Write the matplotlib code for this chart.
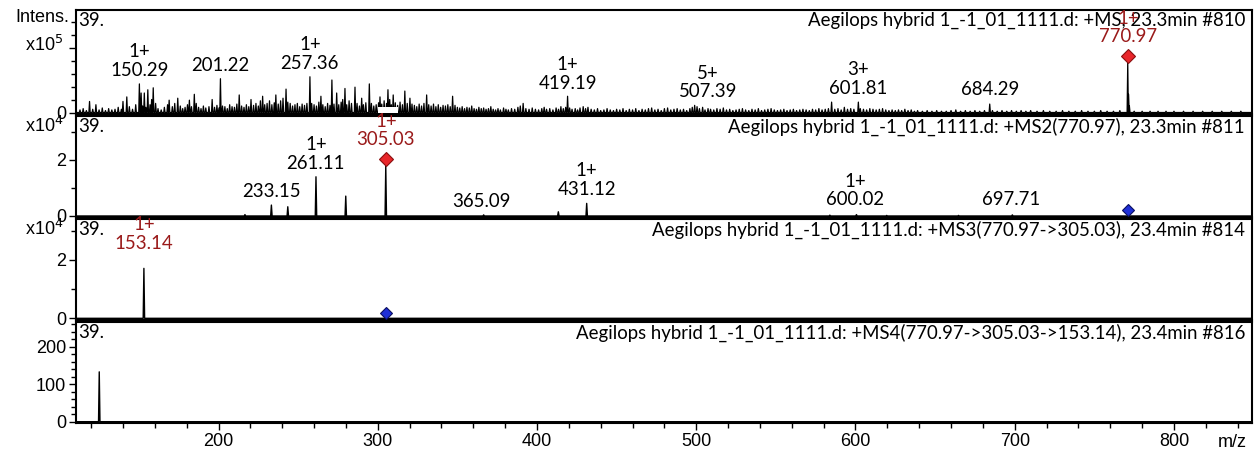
import matplotlib
matplotlib.use("Agg")
import matplotlib.pyplot as plt
from matplotlib.ticker import MultipleLocator
from matplotlib.patches import Rectangle

TICK_FONT = ["Liberation Sans Narrow", "Liberation Sans", "DejaVu Sans"]
LABEL_FONT = ["Lato", "DejaVu Sans"]
LABEL_SIZE = 13.4
RED_TXT = "#9a1a1a"

# --- MS (full scan), intensities in thousands ---
ms1_mz = [113, 115, 117, 119, 121, 123, 125, 127, 129, 131, 133, 135, 137, 139, 140, 142.4, 144, 146, 148,
          150.3, 151.4, 152.3, 153.4, 154.4, 155.6, 157, 158, 159, 160.5, 162, 164, 166, 168, 169, 171,
          172.5, 174.4, 176, 177.5, 179, 180.5, 181.7, 183, 184.8, 186, 187.5, 189, 190.5, 192, 194, 196,
          197.5, 199, 200.3, 201.2, 202.5, 204, 205.5, 207, 208.5, 210, 211.5, 213, 214.5, 216, 217.5, 219,
          220.4, 222, 223.5, 225, 226.3, 227.7, 229, 230.5, 232, 233.5, 235, 236, 237.5, 239, 240.5, 242.4,
          243.5, 245, 246.5, 248, 249.5, 251, 252.5, 254, 255.5, 257.4, 258.5, 260, 261.5, 263, 264.3, 265.5,
          267, 268.5, 270, 271.2, 272.5, 274.2, 275.5, 277, 278, 279.4, 280.5, 282, 283.5, 285.7, 287, 288.5,
          289.9, 291, 292.5, 294.7, 296, 297.5, 299, 300.5, 301.4, 302.5, 304, 305.5, 306.4, 307.5, 308.5,
          309.7, 311, 312.5, 314, 315.5, 317, 318.5, 320.2, 321.5, 323, 324.5, 326, 327.5, 329, 330.7, 332,
          333.5, 335, 336.5, 338, 339.5, 341, 342.5, 344, 345.5, 347, 348.5, 350, 351.5, 353, 354.5, 356,
          357.5, 359, 360.5, 362, 363.5, 365, 366.5, 368, 369.5, 371, 372.5, 374, 375.5, 377, 379, 380.5,
          382, 384, 386, 388, 389.5, 391.3, 393, 395, 397, 399, 401, 403, 404.5, 406, 408, 410, 412, 413.5,
          415, 416.5, 418, 419.2, 420.5, 422, 424, 425.5, 427, 429, 430.5, 432, 434, 436, 438, 440, 442,
          444, 446, 448, 450, 452, 454, 456, 458, 460, 462, 464, 466, 468, 470, 472, 474, 476, 478, 480,
          482, 484, 486, 488, 490, 492, 494, 496, 497.5, 499, 500.5, 502, 504, 505.5, 507.4, 509, 511, 513,
          515, 517, 519, 521, 523, 525, 527, 529, 531, 533, 535, 537, 539, 541, 543, 545, 547, 549, 551,
          553, 555, 557, 559, 561, 563, 565, 567, 569, 571, 573, 575, 577, 579, 581, 583, 585, 587, 589,
          591, 593, 595, 597, 599, 601.8, 603, 605, 607, 609, 611, 613, 615, 617, 619, 621, 623, 625, 627,
          629, 631, 633, 635, 637, 639, 642, 645, 648, 651, 654, 657, 660, 663, 666, 669, 672, 675, 678,
          681, 684.3, 686, 689, 692, 695, 698, 701, 704, 707, 710, 714, 718, 722, 726, 730, 734, 738, 742,
          746, 750, 754, 758, 762, 766, 770.97, 771.5, 772, 775, 780, 785, 790, 795, 800, 806, 812, 818,
          824, 830, 836, 842]
ms1_int = [4, 6, 3, 17, 5, 12, 4, 7, 3, 6, 4, 5, 8, 5, 17, 24, 9, 5, 12,
           44, 30, 10, 30, 8, 35, 12, 20, 38, 14, 6, 4, 8, 12, 19, 9,
           14, 22, 10, 6, 8, 12, 19, 9, 28, 14, 8, 6, 10, 7, 9, 20,
           8, 11, 7, 52, 10, 9, 6, 12, 9, 8, 13, 27, 10, 8, 12, 9,
           20, 11, 14, 10, 18, 25, 12, 14, 18, 12, 15, 27, 13, 18, 22, 36,
           16, 14, 10, 12, 14, 9, 13, 11, 14, 55, 14, 12, 10, 16, 25, 12,
           9, 14, 11, 50, 13, 30, 12, 16, 20, 37, 12, 18, 14, 39, 14, 10,
           22, 12, 15, 44, 14, 10, 12, 15, 24, 13, 18, 14, 35, 20, 12,
           27, 15, 11, 16, 12, 33, 14, 22, 13, 11, 9, 13, 10, 14, 27, 12,
           10, 13, 9, 12, 8, 11, 10, 12, 9, 25, 11, 8, 7, 9, 6, 8,
           7, 10, 6, 5, 8, 6, 7, 5, 6, 9, 5, 4, 6, 4, 7, 5,
           4, 6, 5, 8, 10, 14, 6, 5, 7, 5, 4, 6, 8, 5, 6, 4, 7, 5,
           9, 6, 8, 25, 7, 5, 6, 4, 7, 9, 6, 8, 5, 4, 6, 3, 4,
           6, 4, 3, 5, 4, 6, 3, 5, 4, 6, 3, 5, 4, 6, 7, 4, 5, 3, 6,
           7, 4, 5, 6, 4, 5, 3, 6, 8, 11, 9, 6, 8, 4, 6, 5, 4, 6,
           5, 7, 4, 5, 3, 4, 5, 6, 4, 3, 5, 4, 6, 3, 4, 5, 6, 4, 3,
           4, 5, 3, 4, 5, 3, 4, 5, 4, 3, 5, 4, 6, 4, 5, 6, 16, 5, 6,
           4, 8, 5, 6, 5, 16, 6, 5, 4, 6, 5, 4, 5, 6, 4, 3, 4, 3, 4,
           3, 5, 3, 4, 2, 3, 2, 3, 2, 3, 2, 2, 3, 4, 2, 3, 2, 3, 2,
           3, 13, 3, 2, 3, 2, 3, 2, 3, 2, 3, 2, 3, 2, 2, 3, 2, 2, 3,
           2, 2, 3, 2, 2, 3, 78, 28, 10, 2, 2, 2, 2, 2, 2, 2, 2, 2,
           2, 2, 2, 2]
ms1_labels = ["150.29", "201.22", "257.36", "419.19", "507.39", "601.81", "684.29", "770.97"]
ms1_charges = ["1+", "", "1+", "1+", "5+", "3+", "", "1+"]
ms1_label_y = [56.9, 63.5, 67.2, 36.5, 23.5, 28.8, 26.2, 108]
ms1_prec = 770.97
ms1_prec_y = 87

# --- MS2(770.97), intensities in thousands ---
ms2_mz = [216.6, 233.2, 243.5, 261.2, 279.9, 305.03, 366.5, 413.4, 431.2, 583.9, 600.6, 619.6, 664.7, 698.5]
ms2_int = [0.5, 3.9, 3.3, 14.0, 7.1, 17.9, 0.4, 1.5, 4.5, 0.3, 0.5, 0.2, 0.2, 0.4]
ms2_labels = ["233.15", "261.11", "305.03", "365.09", "431.12", "600.02", "697.71"]
ms2_charges = ["", "1+", "1+", "", "1+", "1+", ""]
ms2_label_y = [6.8, 16.8, 25.2, 3.2, 7.5, 3.75, 3.75]
ms2_prec = 305.03
ms2_prec_y = 20.5
ms2_parent_y = 2.1

# --- MS3(770.97->305.03), intensities in thousands ---
ms3_mz = [153.14]
ms3_int = [17.1]
ms3_labels = ["153.14"]
ms3_charges = ["1+"]
ms3_label_y = [23.7]
ms3_parent_y = 1.7

# --- MS4(770.97->305.03->153.14), raw intensities ---
ms4_mz = [125.1]
ms4_int = [133]

titles = ["Aegilops hybrid 1_-1_01_1111.d: +MS, 23.3min #810",
          "Aegilops hybrid 1_-1_01_1111.d: +MS2(770.97), 23.3min #811",
          "Aegilops hybrid 1_-1_01_1111.d: +MS3(770.97->305.03), 23.4min #814",
          "Aegilops hybrid 1_-1_01_1111.d: +MS4(770.97->305.03->153.14), 23.4min #816"]

XMIN, XMAX = 110.5, 849


def profile(mz, inten, scale, w=0.45):
    xs, ys = [XMIN], [0]
    for m, h in sorted(zip(mz, inten)):
        xs += [m - w, m, m + w]
        ys += [0, h * scale, 0]
    xs.append(XMAX)
    ys.append(0)
    return xs, ys


def add_labels(ax, labels, charges, ys, scale, red=None):
    for lab, ch, y in zip(labels, charges, ys):
        col = RED_TXT if lab == red else "black"
        txt = lab if ch == "" else ch + "\n" + lab
        ax.text(float(lab), y * scale, txt, ha="center", va="baseline", color=col,
                fontsize=LABEL_SIZE, family=LABEL_FONT, linespacing=1.12, zorder=5)


fig = plt.figure(figsize=(12.6, 4.58), dpi=100)
left, width = 76 / 1260, (1252 - 76) / 1260
boxes = [(10, 114), (116, 217), (219, 320), (322, 423)]
axes = []
for top, bot in boxes:
    ax = fig.add_axes([left, 1 - bot / 458, width, (bot - top) / 458])
    ax.set_xlim(XMIN, XMAX)
    for s in ax.spines.values():
        s.set_linewidth(1.5)
    ax.tick_params(which="both", direction="out", width=1, labelsize=13)
    ax.tick_params(which="major", length=5, pad=2)
    ax.tick_params(which="minor", length=3.5)
    ax.xaxis.set_major_locator(MultipleLocator(100))
    ax.xaxis.set_minor_locator(MultipleLocator(20))
    ax.text(0.002, 0.985, "39.", transform=ax.transAxes, ha="left", va="top",
            fontsize=LABEL_SIZE, family=LABEL_FONT)
    axes.append(ax)
ax1, ax2, ax3, ax4 = axes
for ax, t in zip(axes, titles):
    ax.text(0.994, 0.985, t, transform=ax.transAxes, ha="right", va="top",
            fontsize=LABEL_SIZE, family=LABEL_FONT)

# panel 1
x, y = profile(ms1_mz, ms1_int, 1000, w=0.4)
ax1.plot(x, y, color="black", lw=0.9)
ax1.set_ylim(-2300, 157700)
ax1.set_yticks([0, 100000])
ax1.set_yticklabels(["0", ""])
ax1.yaxis.set_minor_locator(MultipleLocator(20000))
add_labels(ax1, ms1_labels, ms1_charges, ms1_label_y, 1000, red="770.97")
ax1.plot([ms1_prec], [ms1_prec_y * 1000], marker="D", ms=7, mfc="#e8262a", mec="#8a0f0f", mew=0.8, zorder=6)
ax1.add_patch(Rectangle((ms2_prec - 5, 0.012), 12.5, 0.055, transform=ax1.get_xaxis_transform(),
                        facecolor="white", edgecolor="none", zorder=4))
fig.text(0.055, 1 - 18 / 458, "Intens.", ha="right", va="center", fontsize=13, family=TICK_FONT)
ax1.text(-0.011, 0.66, r"x10$^5$", transform=ax1.transAxes, ha="right", va="center",
         fontsize=13, family=TICK_FONT)

# panel 2
x, y = profile(ms2_mz, ms2_int, 1000)
ax2.plot(x, y, color="black", lw=1.0)
ax2.set_ylim(-360, 35700)
ax2.set_yticks([0, 20000])
ax2.set_yticklabels(["0", "2"])
ax2.yaxis.set_minor_locator(MultipleLocator(10000))
add_labels(ax2, ms2_labels, ms2_charges, ms2_label_y, 1000, red="305.03")
ax2.plot([ms2_prec], [ms2_prec_y * 1000], marker="D", ms=7, mfc="#e8262a", mec="#8a0f0f", mew=0.8, zorder=6)
ax2.plot([ms1_prec], [ms2_parent_y * 1000], marker="D", ms=6.5, mfc="#1f2fd6", mec="#0a0f60", mew=0.8, zorder=6)
ax2.text(-0.011, 0.9, r"x10$^4$", transform=ax2.transAxes, ha="right", va="center",
         fontsize=13, family=TICK_FONT)

# panel 3
x, y = profile(ms3_mz, ms3_int, 1000)
ax3.plot(x, y, color="black", lw=1.0)
ax3.set_ylim(-580, 34000)
ax3.set_yticks([0, 20000])
ax3.set_yticklabels(["0", "2"])
ax3.yaxis.set_minor_locator(MultipleLocator(10000))
add_labels(ax3, ms3_labels, ms3_charges, ms3_label_y, 1000, red="153.14")
ax3.plot([ms2_prec], [ms3_parent_y * 1000], marker="D", ms=6.5, mfc="#1f2fd6", mec="#0a0f60", mew=0.8, zorder=6)
ax3.text(-0.011, 0.9, r"x10$^4$", transform=ax3.transAxes, ha="right", va="center",
         fontsize=13, family=TICK_FONT)

# panel 4
x, y = profile(ms4_mz, ms4_int, 1)
ax4.plot(x, y, color="black", lw=1.0)
ax4.set_ylim(-3.5, 266)
ax4.set_yticks([0, 100, 200])
ax4.yaxis.set_minor_locator(MultipleLocator(20))
ax4.text(0.983, -0.19, "m/z", transform=ax4.transAxes, ha="center", va="center",
         fontsize=13, family=TICK_FONT)

for ax in axes:
    for lab in ax.get_xticklabels() + ax.get_yticklabels():
        lab.set_family(TICK_FONT)
for ax in axes[:3]:
    ax.tick_params(axis="x", which="both", labelbottom=False, length=0)

fig.savefig("out.png", dpi=100)
